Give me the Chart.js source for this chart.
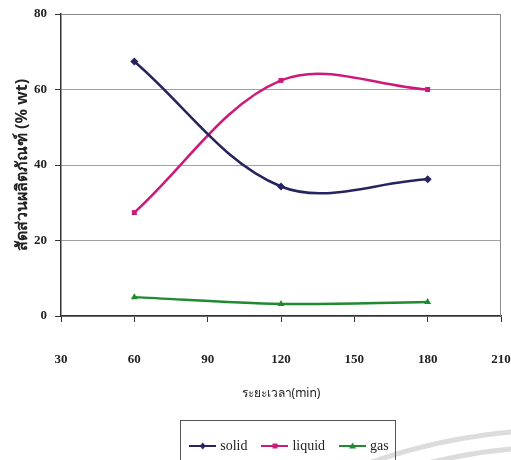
<!DOCTYPE html>
<html>
<head>
<meta charset="utf-8">
<script src="https://cdn.jsdelivr.net/npm/chart.js@4/dist/chart.umd.min.js"></script>
<style>
  html, body { margin: 0; padding: 0; background: #fff; }
  #wrap { width: 511px; height: 460px; }
</style>
</head>
<body>
<div id="wrap"><canvas id="lineChart" width="511" height="460"></canvas></div>
<script>
// data
const timeMin = [60, 120, 180];
const solidVals = [67.4, 34.3, 36.2];
const liquidVals = [27.4, 62.4, 60.0];
const gasVals = [5.0, 3.2, 3.7];
const seriesNames = ['solid', 'liquid', 'gas'];
const xTicks = [30, 60, 90, 120, 150, 180, 210];
const yTicks = [0, 20, 40, 60, 80];

const colors = ['#25245e', '#cc1a7a', '#1f8a30'];
const markers = ['rectRot', 'rect', 'triangle'];

const tickFont = { family: '"Liberation Serif", "DejaVu Serif", serif', size: 13, weight: 'bold' };

function toPoints(vals) {
    return timeMin.map((t, i) => ({ x: t, y: vals[i] }));
}

// small line+marker picture for the legend
function legendSample(color, marker) {
    const c = document.createElement('canvas');
    c.width = 27; c.height = 10;
    const g = c.getContext('2d');
    g.strokeStyle = color;
    g.lineWidth = 2;
    g.beginPath(); g.moveTo(0, 5); g.lineTo(27, 5); g.stroke();
    g.fillStyle = color;
    g.beginPath();
    if (marker === 'rectRot') {
        g.moveTo(13.5, 1.5); g.lineTo(16.5, 5); g.lineTo(13.5, 8.5); g.lineTo(10.5, 5);
    } else if (marker === 'rect') {
        g.rect(11, 2.5, 5, 5);
    } else {
        g.moveTo(13.5, 1.5); g.lineTo(17, 7.5); g.lineTo(10, 7.5);
    }
    g.closePath(); g.fill();
    return c;
}

const frame = {
    id: 'frame',
    afterLayout(chart) {
        // legend sits right of the canvas centre and a little lower
        const lg = chart.legend;
        if (lg) {
            lg.left += 40; lg.right += 40;
            lg.top += 3; lg.bottom += 3;
        }
    },
    beforeDraw(chart) {
        // faint watermark arcs bottom right
        const ctx = chart.ctx;
        ctx.save();
        ctx.strokeStyle = '#dcdcdc';
        ctx.lineWidth = 5;
        ctx.beginPath();
        ctx.arc(560, 1000, 570, -1.95, -1.45);
        ctx.stroke();
        ctx.beginPath();
        ctx.arc(560, 1000, 553, -1.85, -1.45);
        ctx.stroke();
        ctx.restore();
    },
    beforeDatasetsDraw(chart) {
        const { ctx, chartArea: a } = chart;
        ctx.save();
        ctx.strokeStyle = '#8a8a8a';
        ctx.lineWidth = 1;
        ctx.beginPath();
        ctx.moveTo(a.left, a.top + 0.5);
        ctx.lineTo(a.right - 0.5, a.top + 0.5);
        ctx.lineTo(a.right - 0.5, a.bottom);
        ctx.stroke();
        ctx.restore();
    },
    afterDraw(chart) {
        const lg = chart.legend;
        if (!lg || !lg.legendHitBoxes.length) return;
        const boxes = lg.legendHitBoxes;
        const x1 = Math.min(...boxes.map(b => b.left)) - 12;
        const x2 = Math.max(...boxes.map(b => b.left + b.width)) + 6;
        const y1 = lg.top - 2;
        const ctx = chart.ctx;
        ctx.save();
        ctx.strokeStyle = '#555';
        ctx.lineWidth = 1;
        ctx.strokeRect(Math.round(x1) + 0.5, Math.round(y1) + 0.5, Math.round(x2 - x1), 60);
        ctx.restore();
    }
};

const ctxEl = document.getElementById('lineChart');
new Chart(ctxEl, {
    type: 'line',
    data: {
        datasets: [solidVals, liquidVals, gasVals].map((vals, i) => ({
            label: seriesNames[i],
            data: toPoints(vals),
            borderColor: colors[i],
            backgroundColor: colors[i],
            borderWidth: 2.5,
            tension: 0.35,
            pointStyle: markers[i],
            pointRadius: i === 1 ? 3.5 : 4,
            pointBorderWidth: 0
        }))
    },
    options: {
        responsive: false,
        animation: false,
        layout: { padding: { top: 14, right: 10, left: 0, bottom: 0 } },
        plugins: {
            tooltip: { enabled: false },
            legend: {
                position: 'bottom',
                labels: {
                    font: { family: '"Liberation Serif", "DejaVu Serif", serif', size: 14 },
                    color: '#222',
                    padding: 17,
                    usePointStyle: true,
                    pointStyleWidth: 21,
                    generateLabels: function(chart) {
                        return chart.data.datasets.map((ds, i) => ({
                            text: ds.label,
                            pointStyle: legendSample(colors[i], markers[i]),
                            fillStyle: colors[i],
                            strokeStyle: colors[i],
                            lineWidth: 0,
                            fontColor: '#222',
                            datasetIndex: i
                        }));
                    }
                }
            }
        },
        scales: {
            x: {
                type: 'linear',
                min: 30,
                max: 210,
                afterBuildTicks: function(scale) {
                    scale.ticks = xTicks.map(v => ({ value: v }));
                },
                afterFit: function(scale) {
                    scale.height = 103;
                    scale.paddingLeft = 0;
                    scale.paddingRight = 0;
                },
                grid: {
                    drawOnChartArea: false,
                    drawTicks: true,
                    tickLength: 6,
                    tickColor: '#333'
                },
                border: { color: '#333', width: 1.5 },
                ticks: {
                    font: tickFont,
                    color: '#222',
                    padding: 30,
                    maxRotation: 0
                },
                title: {
                    display: true,
                    text: 'ระยะเวลา(min)',
                    font: { family: '"Noto Sans", "DejaVu Sans", sans-serif', size: 12 },
                    color: '#222',
                    padding: { top: 19, bottom: 18 }
                }
            },
            y: {
                min: 0,
                max: 80,
                afterBuildTicks: function(scale) {
                    scale.ticks = yTicks.map(v => ({ value: v }));
                },
                afterFit: function(scale) {
                    scale.width = 61;
                    scale.paddingTop = 0;
                    scale.paddingBottom = 0;
                },
                grid: {
                    color: '#a0a0a0',
                    lineWidth: 1,
                    tickLength: 6,
                    tickColor: '#333'
                },
                border: { color: '#333', width: 1.5 },
                ticks: {
                    font: tickFont,
                    color: '#222',
                    padding: 8
                },
                title: {
                    display: true,
                    text: 'สัดส่วนผลิตภัณฑ์ (% wt)',
                    font: { family: '"Noto Sans", "DejaVu Sans", sans-serif', size: 16, weight: 'bold' },
                    color: '#222',
                    padding: { top: 13, bottom: 0 }
                }
            }
        }
    },
    plugins: [frame]
});
</script>
</body>
</html>
